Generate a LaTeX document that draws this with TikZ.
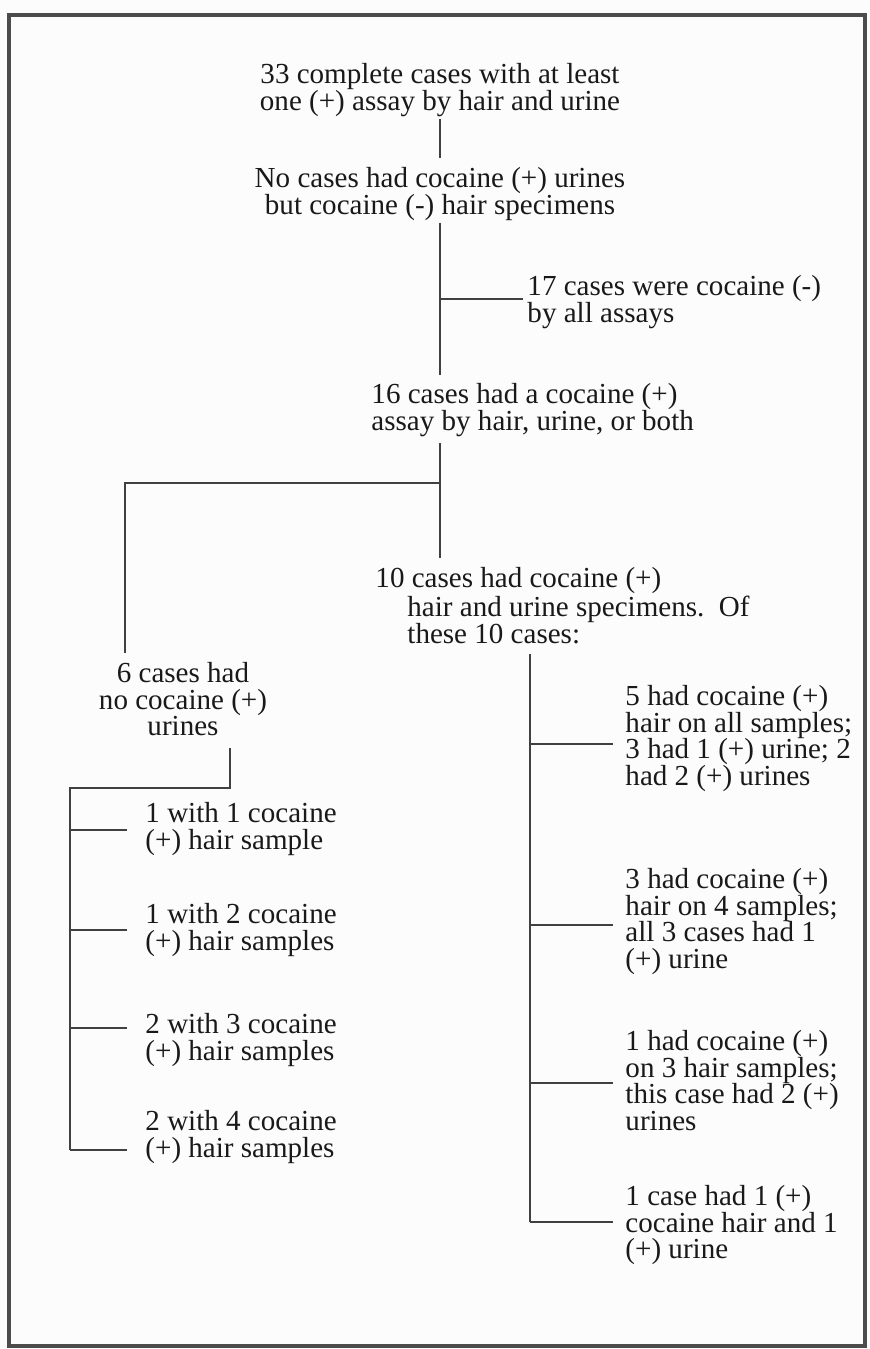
\documentclass[tikz,border=0pt]{standalone}
\usepackage{fontspec}
\setmainfont{Liberation Serif}
\usepackage{pgf,tikz}
\usetikzlibrary{calc}

\begin{document}
\begin{tikzpicture}[x=1.0cm,y=1.0cm,
  txt/.style={inner sep=0pt, text=black!90, font=\fontsize{12.4}{11.3}\selectfont},
  mid/.style={txt, align=center, anchor=north},
  lft/.style={txt, align=left, anchor=north west},
  conn/.style={line width=1.1pt, draw=black!75}]
\useasboundingbox[fill=black!1] (0,0) rectangle (13.05,20.235);
\draw[line width=1.4pt, draw=black!70] (0.135,0.045) rectangle (12.975,20.01);
% main trunk
\node[mid] (allcases) at (6.6,19.29) {33 complete cases with at least\\one (+) assay by hair and urine};
\node[mid] (nocase) at (6.6,17.73) {No cases had cocaine (+) urines\\but cocaine (-) hair specimens};
\node[lft] (neg17) at (7.905,16.11) {17 cases were cocaine (-)\\by all assays};
\node[lft] (pos16) at (5.565,14.49) {16 cases had a cocaine (+)\\assay by hair, urine, or both};
\node[lft] (pos10) at (5.625,11.73) {10 cases had cocaine (+)\\\hspace*{1.1em}hair and urine specimens.\ \ Of\\\hspace*{1.1em}these 10 cases:};
\node[mid] (no6) at (2.745,10.305) {6 cases had\\no cocaine (+)\\urines};
% left side
\node[lft] (hair1) at (2.175,8.205) {1 with 1 cocaine\\(+) hair sample};
\node[lft] (hair2) at (2.175,6.69) {1 with 2 cocaine\\(+) hair samples};
\node[lft] (hair3) at (2.175,5.04) {2 with 3 cocaine\\(+) hair samples};
\node[lft] (hair4) at (2.175,3.585) {2 with 4 cocaine\\(+) hair samples};
% right side
\node[lft] (urine1) at (9.375,9.96) {5 had cocaine (+)\\hair on all samples;\\3 had 1 (+) urine; 2\\had 2 (+) urines};
\node[lft] (urine2) at (9.375,7.215) {3 had cocaine (+)\\hair on 4 samples;\\all 3 cases had 1\\(+) urine};
\node[lft] (urine3) at (9.375,4.785) {1 had cocaine (+)\\on 3 hair samples;\\this case had 2 (+)\\urines};
\node[lft] (urine4) at (9.375,2.46) {1 case had 1 (+)\\cocaine hair and 1\\(+) urine};

\coordinate (j17) at (6.6,15.75);
\coordinate (j6) at (6.6,12.99);
\coordinate (k6) at (1.875,12.99);
\coordinate (k7) at (3.45,8.415);
\coordinate (k8) at (1.05,8.415);
\coordinate (h1) at (1.05,7.785);
\coordinate (h2) at (1.05,6.285);
\coordinate (h3) at (1.05,4.815);
\coordinate (h4) at (1.05,2.985);
\coordinate (u1) at (7.95,9.075);
\coordinate (u2) at (7.95,6.36);
\coordinate (u3) at (7.95,3.99);
\coordinate (u4) at (7.95,1.905);

\draw[conn] ([yshift=-0.03cm]allcases.south) -- ([yshift=0.135cm]nocase.north);
\draw[conn] ([yshift=-0.03cm]nocase.south) -- ([yshift=0.12cm]nocase.south |- pos16.north);
\draw[conn] (j17) -- ([xshift=-0.06cm]j17 -| neg17.west);
\draw[conn] ([yshift=-0.09cm]nocase.south |- pos16.south) -- ([yshift=0.135cm]nocase.south |- pos10.north);
\draw[conn] (j6) -- (k6) -- ([yshift=0.135cm]k6 |- no6.north);
\draw[conn] ([yshift=-0.18cm]k7 |- no6.south) -- (k7) -- (k8) -- (h4);
\draw[conn] ([yshift=-0.15cm]u4 |- pos10.south) -- (u4);
\foreach \n in {1,...,4}{
  \draw[conn] (h\n) -- ([xshift=-0.27cm]h\n -| hair\n.west);
  \draw[conn] (u\n) -- ([xshift=-0.18cm]u\n -| urine\n.west);
}
\end{tikzpicture}
\end{document}
